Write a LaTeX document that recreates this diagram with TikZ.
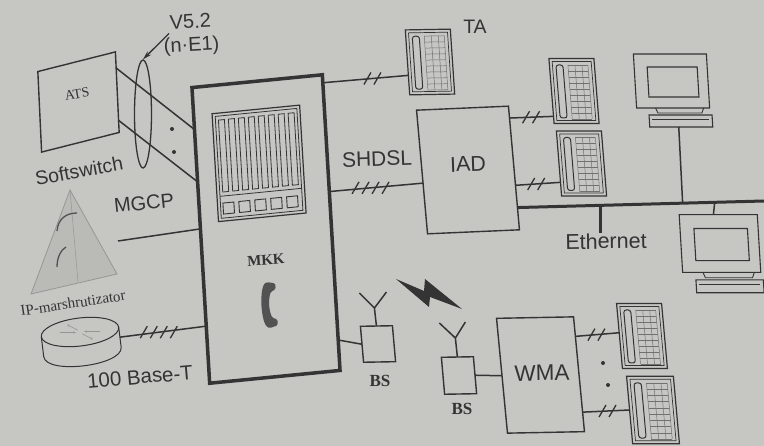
\documentclass[tikz,border=0pt]{standalone}
\usepackage{fontspec}
\setmainfont{Liberation Serif}
\setsansfont{Liberation Sans}
\usetikzlibrary{shapes.geometric,calc,arrows.meta}
\definecolor{paper}{RGB}{198,198,195}
\definecolor{ink}{RGB}{52,52,52}
\definecolor{faint}{RGB}{150,150,148}
\definecolor{pyrfill}{RGB}{186,186,183}
\tikzset{
  box/.style={draw=ink, line width=1.4pt, rectangle, inner sep=0pt, outer sep=0pt, transform shape},
  link/.style={draw=ink, line width=1.5pt},
  sanstext/.style={text=ink, inner sep=0pt, font=\sffamily\fontsize{#1}{#1}\selectfont},
  seriftext/.style={text=ink, inner sep=0pt, font=\rmfamily\fontsize{#1}{#1}\selectfont},
  pics/ticks2/.style={code={
    \draw[ink, line width=1.3pt] (-8.5,6) -- (-1.5,-6) (1.5,6) -- (8.5,-6);}},
  pics/ticks4/.style={code={
    \foreach \k in {-15,-5,5,15} \draw[ink, line width=1.3pt] (\k-3.5,6) -- (\k+3.5,-6);}},
  pics/phone/.style={code={
    \node[box, line width=1.2pt, minimum width=45, minimum height=65] (-box) at (0,0) {};
    \draw[ink, line width=0.7pt] (-19.5,-29.5) rectangle (19.5,29.5);
    \draw[ink, line width=1pt, rounded corners=2.5pt] (-16,-26) rectangle (-9,27);
    \foreach \yy in {-26,-20,...,28} \draw[ink!70, line width=0.5pt] (-4,\yy) -- (16,\yy);
    \foreach \xx in {-4,3,10,16} \draw[ink!70, line width=0.5pt] (\xx,-26) -- (\xx,28);}},
  pics/monitor/.style={code={
    \draw[ink, line width=1.1pt] (-37,-27) rectangle (36,27);
    \draw[ink, line width=1.1pt] (-24,-14) rectangle (26,16);
    \draw[ink, line width=0.9pt] (-18,27) -- (-16,32) -- (28,32) -- (30,27);
    \draw[ink, line width=1.1pt] (-25,34) rectangle (38,46);
    \draw[ink, line width=0.6pt] (-22,38) -- (35,38);
    \coordinate (-base) at (4,46);
    \coordinate (-top) at (-5,-27);}},
}
\begin{document}
\begin{tikzpicture}[x=1pt, y=-1pt]
\useasboundingbox (0,0) rectangle (764,446);
\fill[paper] (0,0) rectangle (764,446);

% IP router drawn as a faint pyramid
\filldraw[fill=pyrfill, draw=faint, line width=0.8pt] (70,190) -- (31,294) -- (117,274) -- cycle;
\draw[faint, line width=0.5pt] (70,190) -- (78,282);
\draw[ink!85, line width=1.3pt] (57,231) .. controls (58,219) and (66,213) .. (77,213);
\draw[ink!85, line width=1.3pt] (57,267) .. controls (57,257) and (61,250) .. (66,247);

% router cylinder
\begin{scope}[shift={(80,332)}, rotate=7]
  \draw[ink, line width=1pt] (-39,0) -- (-39,20) .. controls (-39,38.7) and (39,38.7) .. (39,20) -- (39,0);
  \draw[ink, line width=1pt] (0,0) ellipse [x radius=39, y radius=14];
  \draw[faint, line width=0.6pt, -{Stealth[length=3pt]}] (-20,-2) -- (-4,0);
  \draw[faint, line width=0.6pt, -{Stealth[length=3pt]}] (20,2) -- (4,0);
  \draw[faint, line width=0.6pt, -{Stealth[length=3pt]}] (-2,-2) -- (-12,-9);
  \draw[faint, line width=0.6pt, -{Stealth[length=3pt]}] (2,2) -- (12,9);
  \coordinate (rt) at (39,10);
\end{scope}

% boxes
\node[box, minimum width=80, minimum height=79, rotate=14.2, xslant=0.204] (ats) at (78.5,102) {};
\node[box, line width=3.5pt, minimum width=131, minimum height=296, rotate=5.6, xslant=0.038] (mkk) at (266,229) {};
\node[box, minimum width=92, minimum height=124, rotate=2.5, xslant=-0.045] (iad) at (468,170) {};
\node[box, minimum width=77, minimum height=115, rotate=1.1, xslant=-0.076] (wma) at (540.5,375) {};
\node[box, minimum width=32, minimum height=36, rotate=1, xslant=-0.07] (bs1) at (378,344) {};
\node[box, minimum width=32, minimum height=37, rotate=1, xslant=-0.07] (bs2) at (459,375.5) {};

% MKK front panel and handset
\begin{scope}[shift={(266,229)}, rotate=5.6, xslant=0.038]
  \draw[ink, line width=1.2pt] (-47,-120) rectangle (41,-12);
  \draw[ink, line width=0.8pt] (-44,-117) rectangle (38,-15);
  \draw[ink, line width=0.8pt] (-44,-37) -- (38,-37);
  \foreach \i in {0,...,7}
    \draw[ink, line width=0.8pt] ({-41+\i*10},-113) rectangle ({-35+\i*10},-41);
  \foreach \i in {0,...,4}
    \draw[ink, line width=0.9pt] ({-41.5+\i*16},-30) rectangle ({-30.5+\i*16},-19);
  \node[seriftext=15, font=\rmfamily\bfseries\fontsize{15}{15}\selectfont, transform shape] (mkklbl) at (-2,31) {MKK};
  \begin{scope}[shift={(-2,76)}]
    \fill[ink!85, rounded corners=1.5pt] (8,-21) -- (0,-23) .. controls (-9,-20) and (-9,20) .. (0,23)
      -- (8,21) -- (8,15) -- (3,13) .. controls (0,5) and (0,-5) .. (3,-13) -- (8,-15) -- cycle;
  \end{scope}
\end{scope}

% antennas
\draw[link] (bs1.north) -- ++(-2,-18) coordinate (ant1) -- ++(-15,-15) (ant1) -- ++(12,-16);
\draw[link] (bs2.north) -- ++(-2,-19) coordinate (ant2) -- ++(-16,-15) (ant2) -- ++(10,-16);

% radio link
\fill[ink] (396,279) -- (424,291) -- (425,279) -- (462,309) -- (430,297) -- (429,307) -- cycle;

% terminals
\pic[rotate=1, xslant=-0.05] (ta) at (430,62) {phone};
\pic[xslant=-0.08] (pa) at (574,91) {phone};
\pic[xslant=-0.08] (pb) at (581.5,163.5) {phone};
\pic[xslant=-0.09] (pc) at (642,336) {phone};
\pic[xslant=-0.09, scale=1.04] (pd) at (653,410) {phone};
\pic[xslant=-0.06] (m1) at (672,81) {monitor};
\pic[xslant=-0.06, scale=1.07] (m2) at (720.5,243.5) {monitor};

% connections on the left
\draw[link] ($(ats.north east)!0.2!(ats.south east)$) -- ($(mkk.north west)!0.142!(mkk.south west)$);
\draw[link] ($(ats.north east)!0.85!(ats.south east)$) -- ($(mkk.north west)!0.319!(mkk.south west)$);
\fill[ink] (172,129) circle (2pt) (174,152) circle (2pt);
\node[draw=ink, line width=1.3pt, ellipse, minimum width=17, minimum height=108, inner sep=0pt] (v52) at (143,114) {};
\coordinate (mgcp) at (118,241);
\draw[link] (mgcp) -- ($(mkk.north west)!0.478!(mkk.south west)$);
\draw[link] (rt) -- pic[pos=0.45]{ticks4} ($(mkk.north west)!0.807!(mkk.south west)$);

% connections on the right
\draw[link] ($(mkk.north east)!0.027!(mkk.south east)$) -- pic[pos=0.58]{ticks2} ($(ta-box.north west)!0.7!(ta-box.south west)$);
\draw[link] ($(mkk.north east)!0.395!(mkk.south east)$) -- pic[pos=0.44]{ticks4} ($(iad.north west)!0.59!(iad.south west)$);
\draw[link] ($(mkk.north east)!0.897!(mkk.south east)$) -- (bs1.west);
\draw[link] ($(iad.north east)!0.096!(iad.south east)$) -- pic[pos=0.49]{ticks2} ($(pa-box.north west)!0.89!(pa-box.south west)$);
\draw[link] ($(iad.north east)!0.64!(iad.south east)$) -- pic[pos=0.46]{ticks2} ($(pb-box.north west)!0.79!(pb-box.south west)$);
\draw[link] (bs2.east) -- (wma.west);
\draw[link] ($(wma.north east)!0.17!(wma.south east)$) -- pic[pos=0.48]{ticks2} ($(pc-box.north west)!0.45!(pc-box.south west)$);
\draw[link] ($(wma.north east)!0.83!(wma.south east)$) -- pic[pos=0.53]{ticks2} ($(pd-box.north west)!0.5!(pd-box.south west)$);
\fill[ink] (603,363) circle (2pt) (608,385) circle (2pt);

% Ethernet segment
\coordinate (busw) at ($(iad.north east)!0.82!(iad.south east)$);
\coordinate (buse) at (764,201);
\draw[ink, line width=3pt] (busw) -- (buse);
\coordinate (drop) at ($(busw)!0.337!(buse)$);
\node[sanstext=21.5, rotate=1] (ethlbl) at (606,241) {Ethernet};
\draw[ink, line width=2.5pt] (drop) -- (drop |- ethlbl.north);
\draw[link] (m1-base) -- ($(busw)!0.67!(buse)$);
\draw[link] ($(busw)!0.8!(buse)$) -- (m2-top);

% labels
\node[seriftext=14, rotate=10] (atslbl) at (77,94) {ATS};
\node[sanstext=20, rotate=3, align=center, font=\sffamily\fontsize{20}{23}\selectfont] (v52lbl) at (191,35) {V5.2\\(n·E1)};
\draw[ink, line width=1.3pt, -{Stealth[length=9pt, width=5pt]}] ($(v52lbl.west)+(6,-3)$) -- (v52.north);
\node[sanstext=19.5, rotate=10.5] (softlbl) at (79,171) {Softswitch};
\node[sanstext=20, rotate=6] (mgcplbl) at (144,203) {MGCP};
\node[seriftext=15, rotate=8.5] (iplbl) at (73,303) {IP-marshrutizator};
\node[sanstext=20.5, rotate=5] (baselbl) at (140,377) {100 Base-T};
\node[sanstext=21, rotate=2] (shdsllbl) at (377,159) {SHDSL};
\node[sanstext=21.5, rotate=2] (iadlbl) at (468,164) {IAD};
\node[sanstext=19.5] (talbl) at (475,27) {TA};
\node[sanstext=22.5, rotate=1] (wmalbl) at (542,373) {WMA};
\node[seriftext=17, font=\rmfamily\bfseries\fontsize{17}{17}\selectfont] (bs1lbl) at (380,381) {BS};
\node[seriftext=17, font=\rmfamily\bfseries\fontsize{17}{17}\selectfont] (bs2lbl) at (462,409) {BS};
\end{tikzpicture}
\end{document}
